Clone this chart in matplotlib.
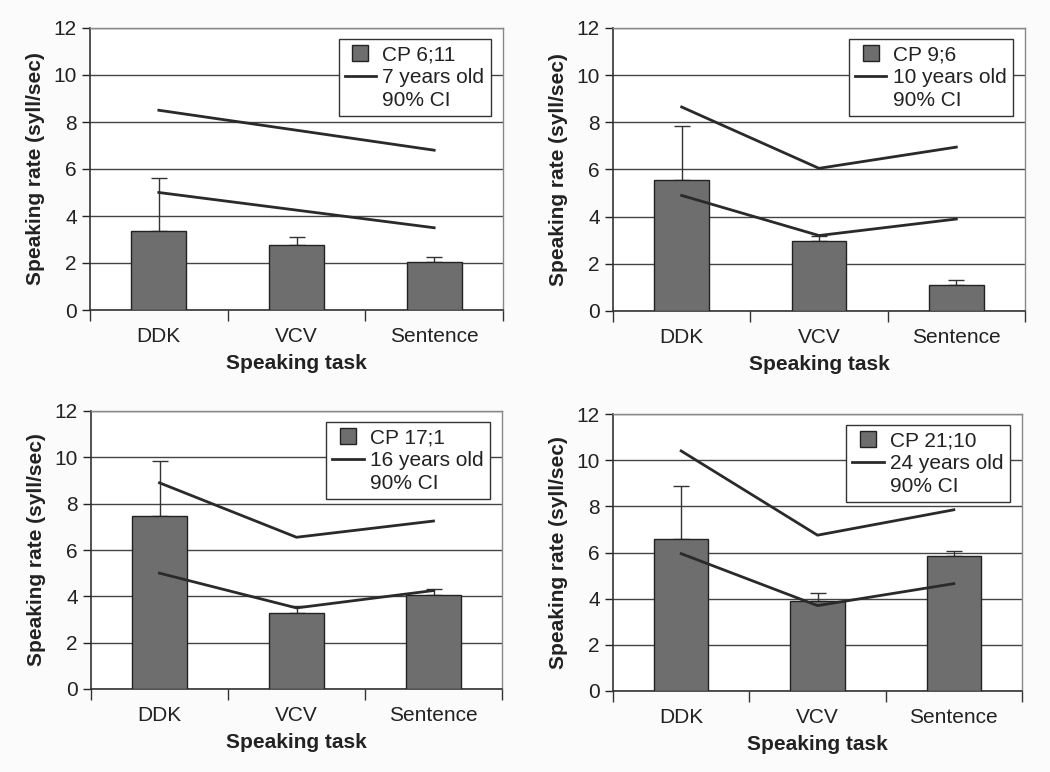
import numpy as np
import matplotlib.pyplot as plt
from matplotlib.lines import Line2D

plt.rcParams['font.family'] = ['Liberation Sans', 'DejaVu Sans']

tasks = ['DDK', 'VCV', 'Sentence']

cp_labels = ['CP 6;11', 'CP 9;6', 'CP 17;1', 'CP 21;10']
norm_labels = ['7 years old', '10 years old', '16 years old', '24 years old']

# CP speaker rates and the tops of their error bars
cp_rate = [[3.35, 2.75, 2.05],
           [5.55, 2.95, 1.10],
           [7.45, 3.30, 4.05],
           [6.60, 3.90, 5.85]]
cp_err_top = [[5.60, 3.10, 2.25],
              [7.85, 3.20, 1.30],
              [9.85, 3.60, 4.30],
              [8.90, 4.25, 6.05]]

# 90% confidence interval of the age-matched normal speakers
ci_upper = [[8.50, 7.65, 6.80],
            [8.65, 6.05, 6.95],
            [8.90, 6.55, 7.25],
            [10.40, 6.75, 7.85]]
ci_lower = [[5.00, 4.25, 3.50],
            [4.90, 3.20, 3.90],
            [5.00, 3.50, 4.25],
            [5.95, 3.70, 4.65]]

# axes boxes in pixels (left, top, right, bottom)
boxes = [(90, 28, 503, 310), (613, 28, 1025, 311),
         (91, 411, 502, 689), (613, 414, 1022, 691)]

W, H = 1050, 772
fig = plt.figure(figsize=(W / 100, H / 100), dpi=100, facecolor='#fbfbfb')

bar_col = '#6e6e6e'
line_col = '#2a2a2a'
txt_col = '#222222'
fs = 15

x = np.arange(len(tasks))
for i in range(4):
    l, t, r, b = boxes[i]
    ax = fig.add_axes([l / W, 1 - b / H, (r - l) / W, (b - t) / H])
    ax.set_facecolor('white')
    rate = np.array(cp_rate[i])
    err = np.array(cp_err_top[i]) - rate
    ax.bar(x, rate, width=0.4, color=bar_col, edgecolor='#222222',
           linewidth=1.0, zorder=3)
    ax.errorbar(x, rate, yerr=[np.zeros(3), err], fmt='none',
                ecolor='#333333', elinewidth=1.0, capsize=6, zorder=2)
    ax.plot(x, ci_upper[i], color=line_col, lw=2, zorder=4)
    ax.plot(x, ci_lower[i], color=line_col, lw=2, zorder=4)

    ax.set_xlim(-0.5, 2.5)
    ax.set_ylim(0, 12)
    ax.set_yticks(range(0, 13, 2))
    ax.yaxis.grid(True, color='#444444', lw=1.0, zorder=0)
    ax.set_xticks(x)
    ax.set_xticklabels(tasks)
    ax.set_xticks([-0.5, 0.5, 1.5, 2.5], minor=True)
    ax.tick_params(axis='x', which='major', length=0, labelsize=fs,
                   pad=12, colors=txt_col)
    ax.tick_params(axis='x', which='minor', length=8, width=1, color='#333333')
    ax.tick_params(axis='y', length=6, width=1, labelsize=fs, colors=txt_col)
    for s in ['left', 'bottom']:
        ax.spines[s].set_color('#333333')
        ax.spines[s].set_linewidth(1.2)
    for s in ['top', 'right']:
        ax.spines[s].set_color('#888888')
        ax.spines[s].set_linewidth(1.0)

    ax.set_xlabel('Speaking task', fontsize=fs, fontweight='bold',
                  color=txt_col, labelpad=6)
    ax.set_ylabel('Speaking rate (syll/sec)', fontsize=fs, fontweight='bold',
                  color=txt_col, labelpad=6)

    handles = [Line2D([], [], ls='none', marker='s', markersize=12,
                      markerfacecolor=bar_col, markeredgecolor='#222222'),
               Line2D([], [], color=line_col, lw=2),
               Line2D([], [], ls='none')]
    leg = ax.legend(handles, [cp_labels[i], norm_labels[i], '90% CI'],
                    loc='upper right', bbox_to_anchor=(0.97, 0.96),
                    fontsize=fs, frameon=True, fancybox=False,
                    handlelength=1.5, handletextpad=0.3, borderpad=0.3,
                    labelspacing=0.18, borderaxespad=0)
    leg.get_frame().set_edgecolor('#333333')
    leg.get_frame().set_linewidth(1.0)
    leg.get_frame().set_alpha(1)
    for txt in leg.get_texts():
        txt.set_color(txt_col)

fig.savefig('out.png', dpi=100, facecolor=fig.get_facecolor())
